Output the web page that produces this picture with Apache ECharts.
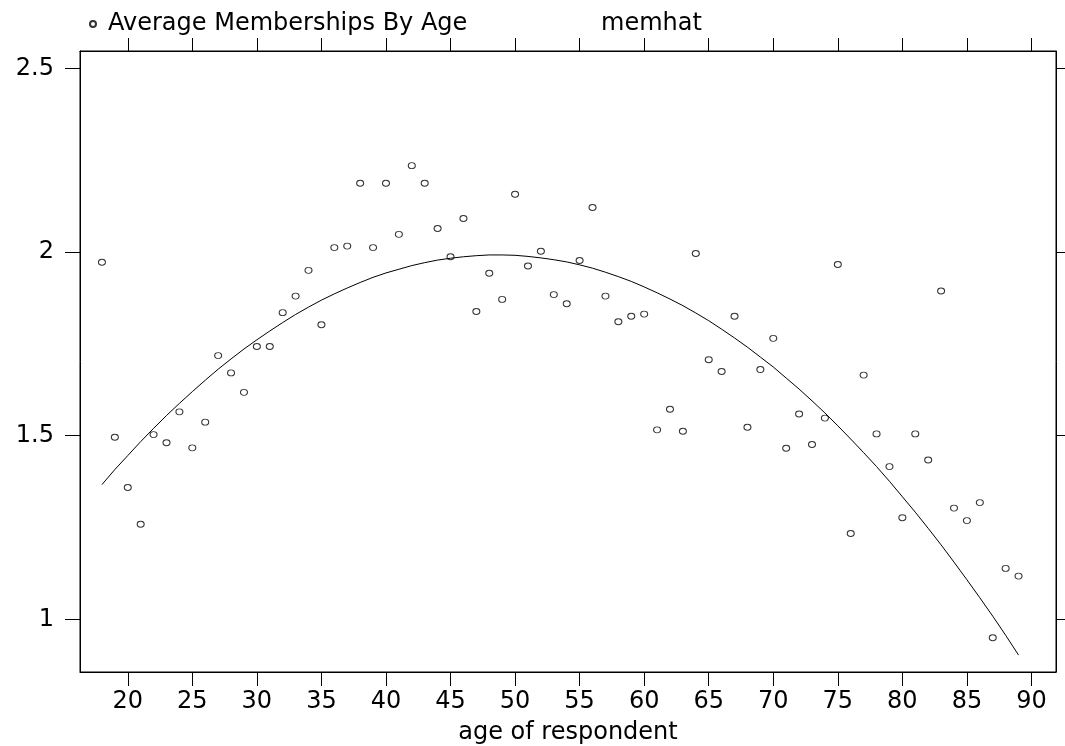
<!DOCTYPE html>
<html>
<head>
<meta charset="utf-8">
<title>Average Memberships By Age</title>
<script src="https://cdn.jsdelivr.net/npm/echarts@6/dist/echarts.min.js"></script>
<style>
    html, body { margin: 0; padding: 0; background: #fff; }
    #chart { width: 1065px; height: 746px; }
</style>
</head>
<body>
<div id="chart"></div>
<script>
// age of respondent
var ages = [18, 19, 20, 21, 22, 23, 24, 25, 26, 27, 28, 29, 30, 31, 32, 33, 34, 35,
    36, 37, 38, 39, 40, 41, 42, 43, 44, 45, 46, 47, 48, 49, 50, 51, 52, 53,
    54, 55, 56, 57, 58, 59, 60, 61, 62, 63, 64, 65, 66, 67, 68, 69, 70, 71,
    72, 73, 74, 75, 76, 77, 78, 79, 80, 81, 82, 83, 84, 85, 86, 87, 88, 89];

// average memberships (points)
var memberships = [1.972, 1.496, 1.359, 1.259, 1.503, 1.481, 1.565, 1.467, 1.537, 1.718,
    1.671, 1.618, 1.743, 1.743, 1.835, 1.880, 1.950, 1.802, 2.012, 2.016,
    2.187, 2.012, 2.187, 2.048, 2.235, 2.187, 2.064, 1.987, 2.091, 1.838,
    1.942, 1.871, 2.157, 1.962, 2.002, 1.884, 1.859, 1.977, 2.121, 1.880,
    1.810, 1.825, 1.831, 1.516, 1.572, 1.512, 1.996, 1.707, 1.675, 1.825,
    1.523, 1.680, 1.765, 1.466, 1.559, 1.476, 1.548, 1.966, 1.234, 1.665,
    1.505, 1.416, 1.277, 1.505, 1.434, 1.894, 1.303, 1.269, 1.318, 0.950,
    1.139, 1.118];

// fitted line (memhat)
var memhat = [1.367, 1.408, 1.446, 1.484, 1.520, 1.555, 1.588, 1.620, 1.651, 1.681,
    1.709, 1.736, 1.761, 1.785, 1.808, 1.830, 1.850, 1.869, 1.886, 1.902,
    1.917, 1.931, 1.943, 1.953, 1.963, 1.971, 1.978, 1.983, 1.987, 1.990,
    1.992, 1.992, 1.991, 1.988, 1.984, 1.979, 1.973, 1.965, 1.956, 1.945,
    1.933, 1.920, 1.905, 1.889, 1.872, 1.854, 1.834, 1.813, 1.790, 1.766,
    1.741, 1.714, 1.687, 1.657, 1.627, 1.595, 1.562, 1.527, 1.491, 1.454,
    1.416, 1.376, 1.334, 1.292, 1.248, 1.203, 1.156, 1.108, 1.059, 1.009,
    0.957, 0.903];

var xTicks = [20, 25, 30, 35, 40, 45, 50, 55, 60, 65, 70, 75, 80, 85, 90];
var yTicks = [1, 1.5, 2, 2.5];

var font = 'DejaVu Sans';
var chart = echarts.init(document.getElementById('chart'));

var pointData = ages.map(function (a, i) { return [a, memberships[i]]; });
var lineData = ages.map(function (a, i) { return [a, memhat[i]]; });

var xBase = {
    type: 'value',
    min: 16.3,
    max: 91.9,
    splitLine: { show: false },
    axisLine: { show: true, lineStyle: { color: '#000', width: 1 } }
};
var yBase = {
    type: 'value',
    min: 0.857,
    max: 2.547,
    splitLine: { show: false },
    axisLine: { show: true, lineStyle: { color: '#000', width: 1 } }
};

var option = {
    animation: false,
    backgroundColor: '#fff',
    textStyle: { fontFamily: font, color: '#000' },
    legend: [{
        left: 84,
        top: 7,
        itemWidth: 20,
        itemHeight: 6,
        selectedMode: false,
        textStyle: { fontFamily: font, fontSize: 24, color: '#000' },
        data: [{ name: 'Average Memberships By Age', icon: 'circle' }]
    }, {
        left: 570,
        top: 7,
        itemWidth: 20,
        itemHeight: 6,
        selectedMode: false,
        textStyle: { fontFamily: font, fontSize: 24, color: '#000' },
        data: [{ name: 'memhat', itemStyle: { opacity: 0 }, lineStyle: { opacity: 0 } }]
    }],
    grid: {
        left: 80,
        right: 9,
        top: 51,
        bottom: 74,
        outerBoundsMode: 'none',
        show: true,
        borderColor: '#000',
        borderWidth: 1
    },
    xAxis: [
        Object.assign({}, xBase, {
            position: 'bottom',
            name: 'age of respondent',
            nameLocation: 'middle',
            nameGap: 49,
            nameTextStyle: { fontFamily: font, fontSize: 24, color: '#000' },
            axisTick: { show: true, length: 14, customValues: xTicks, lineStyle: { color: '#000' } },
            axisLabel: { show: true, margin: 18, customValues: xTicks, fontFamily: font, fontSize: 24, color: '#000' }
        }),
        Object.assign({}, xBase, {
            position: 'top',
            axisTick: { show: true, length: 13, customValues: xTicks, lineStyle: { color: '#000' } },
            axisLabel: { show: false }
        })
    ],
    yAxis: [
        Object.assign({}, yBase, {
            position: 'left',
            axisTick: { show: true, length: 15, customValues: yTicks, lineStyle: { color: '#000' } },
            axisLabel: { show: true, margin: 26, customValues: yTicks, fontFamily: font, fontSize: 24, color: '#000' }
        }),
        Object.assign({}, yBase, {
            position: 'right',
            axisTick: { show: true, length: 9, customValues: yTicks, lineStyle: { color: '#000' } },
            axisLabel: { show: false }
        })
    ],
    series: [{
        name: 'Average Memberships By Age',
        type: 'scatter',
        symbol: 'circle',
        symbolSize: [7, 6],
        itemStyle: { color: '#fff', borderColor: '#000', borderWidth: 1 },
        data: pointData
    }, {
        name: 'memhat',
        type: 'line',
        symbol: 'none',
        smooth: false,
        lineStyle: { color: '#000', width: 1 },
        itemStyle: { color: '#000' },
        data: lineData
    }]
};

chart.setOption(option);
</script>
</body>
</html>
